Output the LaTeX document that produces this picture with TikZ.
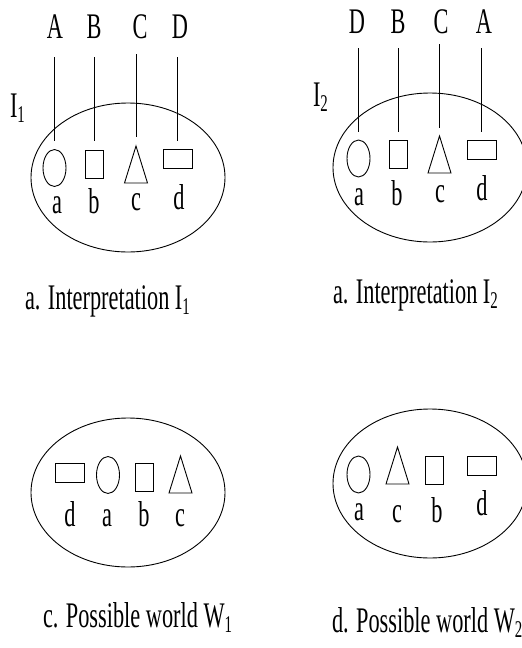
\documentclass[tikz,border=0pt]{standalone}
\usepackage{fontspec}
\setmainfont{Liberation Serif}[FakeStretch=0.62]
\usetikzlibrary{shapes.geometric}
% lowered subscript digit, as in I_1, W_2
\newcommand\lowsub[1]{\raisebox{-5pt}{\fontsize{24}{24}\selectfont #1}}
\begin{document}
\begin{tikzpicture}[x=1pt,y=-1pt,
  every node/.style={inner sep=0pt,outer sep=0pt},
  txt/.style={font=\fontsize{36}{36}\selectfont, anchor=base},
  captext/.style={font=\fontsize{36}{36}\selectfont, anchor=base west},
  world/.style={draw, ellipse, minimum width=194pt, minimum height=149pt, line width=0.9pt},
  oval/.style={draw, ellipse, minimum width=23pt, minimum height=37pt, line width=0.9pt},
  sq/.style={draw, rectangle, minimum width=18pt, minimum height=28pt, line width=0.9pt},
  wide/.style={draw, rectangle, minimum width=29pt, minimum height=19pt, line width=0.9pt},
  tribox/.style={rectangle, minimum width=23pt, minimum height=37pt},
  link/.style={line width=0.8pt}]
\useasboundingbox (0,0) rectangle (522,648);
\clip (0,0) rectangle (522,648);

% ---------- interpretation I1 ----------
\node[world] (w1) at (128,177.5) {};
\node[oval] (a1) at (54.5,168) {};
\node[sq] (b1) at (94.5,164) {};
\node[tribox] (c1) at (136,164.5) {};
\node[wide] (d1) at (177.5,159) {};
\node[txt] (la1) at (57,213) {a};
\node[txt] (lb1) at (94,213) {b};
\node[txt] (lc1) at (136,210) {c};
\node[txt] (ld1) at (179,209) {d};
\node[txt] (A1) at (55,38) {A};
\node[txt] (B1) at (94,38) {B};
\node[txt] (C1) at (140,38) {C};
\node[txt] (D1) at (180,38) {D};
\node[captext] (I1) at (10,117) {I\lowsub{1}};
\draw[link] (a1.north |- A1.base) ++(0,19) -- ([yshift=9pt]a1.north);
\draw[link] (b1.north |- B1.base) ++(0,19) -- ([yshift=9pt]b1.north);
\draw[link] (c1.north |- C1.base) ++(0,16) -- ([yshift=9pt]c1.north);
\draw[link] (d1.north |- D1.base) ++(0,19) -- ([yshift=9pt]d1.north);
\node[captext] (t1) at (25,309) {a. Interpretation I\lowsub{1}};

% ---------- interpretation I2 ----------
\node[world] (w2) at (430,167.5) {};
\node[oval] (a2) at (358.5,158.5) {};
\node[sq] (b2) at (398,154) {};
\node[tribox] (c2) at (439.5,154.5) {};
\node[wide] (d2) at (481.5,149.5) {};
\node[txt] (la2) at (359,205) {a};
\node[txt] (lb2) at (397,205) {b};
\node[txt] (lc2) at (440,202) {c};
\node[txt] (ld2) at (482,200) {d};
\node[txt] (D2) at (357,33) {D};
\node[txt] (B2) at (398,33) {B};
\node[txt] (C2) at (441,33) {C};
\node[txt] (A2) at (484,33) {A};
\node[captext] (I2) at (313,106) {I\lowsub{2}};
\draw[link] (a2.north |- D2.base) ++(0,15) -- ([yshift=8pt]a2.north);
\draw[link] (b2.north |- B2.base) ++(0,15) -- ([yshift=8pt]b2.north);
\draw[link] (c2.north |- C2.base) ++(0,11) -- ([yshift=8pt]c2.north);
\draw[link] (d2.north |- A2.base) ++(0,15) -- ([yshift=8pt]d2.north);
\node[captext] (t2) at (333,303) {a. Interpretation I\lowsub{2}};

% ---------- possible world W1 ----------
\node[world] (w3) at (128,492.5) {};
\node[wide] (d3) at (70,472.5) {};
\node[oval] (a3) at (108,475) {};
\node[sq] (b3) at (144.5,477) {};
\node[tribox] (c3) at (180.5,474.5) {};
\node[txt] (ld3) at (70,526) {d};
\node[txt] (la3) at (107,526) {a};
\node[txt] (lb3) at (144,526) {b};
\node[txt] (lc3) at (180,526) {c};
\node[captext] (t3) at (43,627) {c. Possible world W\lowsub{1}};

% ---------- possible world W2 ----------
\node[world] (w4) at (430,483.5) {};
\node[oval] (a4) at (358.5,474.5) {};
\node[tribox] (c4) at (397.5,465.5) {};
\node[sq] (b4) at (434,470) {};
\node[wide] (d4) at (481.5,465.5) {};
\node[txt] (la4) at (359,520) {a};
\node[txt] (lc4) at (397,522) {c};
\node[txt] (lb4) at (437,522) {b};
\node[txt] (ld4) at (482,515) {d};
\node[captext] (t4) at (332,632) {d. Possible world W\lowsub{2}};

% triangles drawn inside their boxes
\foreach \n in {c1,c2,c3,c4}
  \draw[line width=0.9pt] (\n.south west) -- (\n.north) -- (\n.south east) -- cycle;
\end{tikzpicture}
\end{document}
